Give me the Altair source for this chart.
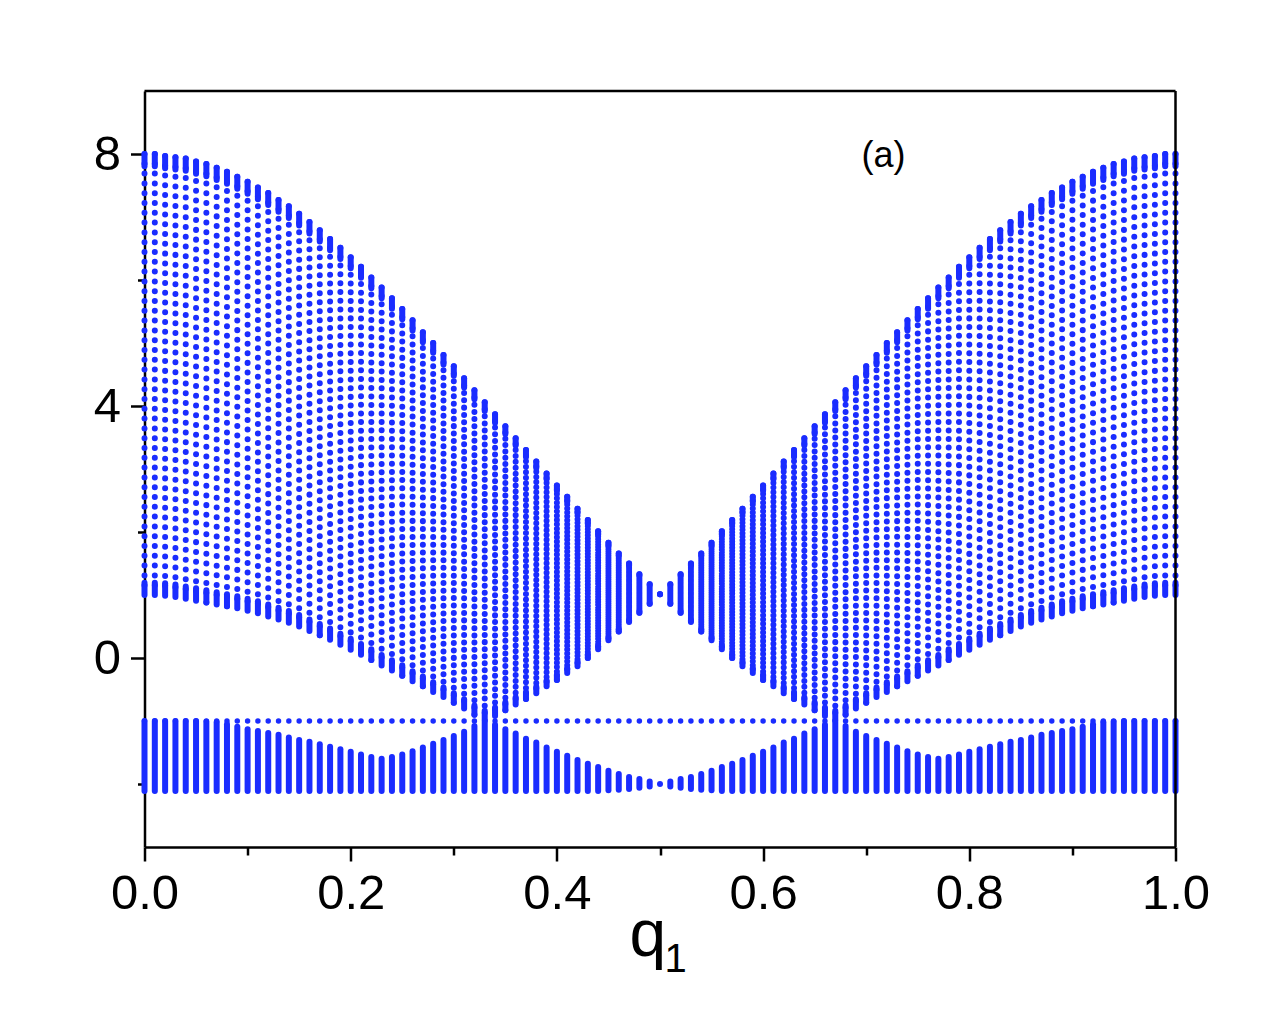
import altair as alt
import pandas as pd

# q1 sampling grid (columns of the spectrum)
q1 = [round(i / 100, 2) for i in range(101)]

# upper band: top and bottom edge of each column
upper_top = [8.00, 8.00, 7.97, 7.95, 7.93, 7.88, 7.84, 7.78, 7.72, 7.64, 7.56,
             7.47, 7.38, 7.27, 7.17, 7.05, 6.92, 6.79, 6.65, 6.51, 6.36,
             6.21, 6.04, 5.88, 5.71, 5.54, 5.36, 5.17, 5.00, 4.81, 4.63,
             4.44, 4.25, 4.06, 3.87, 3.68, 3.49, 3.30, 3.12, 2.93, 2.74,
             2.56, 2.37, 2.19, 2.01, 1.83, 1.66, 1.50, 1.33, 1.17, 1.01,
             1.17, 1.33, 1.50, 1.66, 1.83, 2.01, 2.19, 2.37, 2.56, 2.74,
             2.93, 3.12, 3.30, 3.49, 3.68, 3.87, 4.06, 4.25, 4.44, 4.63,
             4.81, 5.00, 5.17, 5.36, 5.54, 5.71, 5.88, 6.04, 6.21, 6.36,
             6.51, 6.65, 6.79, 6.92, 7.05, 7.17, 7.27, 7.38, 7.47, 7.56,
             7.64, 7.72, 7.78, 7.84, 7.88, 7.93, 7.95, 7.97, 8.00, 8.00]
upper_bot = [1.00, 1.00, 0.99, 0.97, 0.94, 0.91, 0.88, 0.85, 0.82, 0.79, 0.75,
             0.71, 0.66, 0.61, 0.56, 0.50, 0.43, 0.36, 0.29, 0.21, 0.13,
             0.05, -0.03, -0.12, -0.20, -0.28, -0.37, -0.45, -0.54, -0.62, -0.71,
             -0.80, -0.90, -0.98, -0.92, -0.83, -0.74, -0.65, -0.56, -0.45, -0.35,
             -0.24, -0.13, 0.00, 0.14, 0.28, 0.42, 0.57, 0.72, 0.86, 1.01,
             0.86, 0.72, 0.57, 0.42, 0.28, 0.14, 0.00, -0.13, -0.24, -0.35,
             -0.45, -0.56, -0.65, -0.74, -0.83, -0.92, -0.98, -0.90, -0.80, -0.71,
             -0.62, -0.54, -0.45, -0.37, -0.28, -0.20, -0.12, -0.03, 0.05, 0.13,
             0.21, 0.29, 0.36, 0.43, 0.50, 0.56, 0.61, 0.66, 0.71, 0.75,
             0.79, 0.82, 0.85, 0.88, 0.91, 0.94, 0.97, 0.99, 1.00, 1.00]
# lower band: top and bottom edge of each column
lower_top = [-1.00, -1.00, -1.00, -1.00, -1.00, -1.00, -1.01, -1.02, -1.05, -1.09, -1.13,
             -1.16, -1.19, -1.22, -1.26, -1.30, -1.33, -1.37, -1.41, -1.45, -1.49,
             -1.53, -1.57, -1.60, -1.57, -1.53, -1.48, -1.42, -1.36, -1.30, -1.24,
             -1.17, -1.08, -1.00, -1.06, -1.13, -1.20, -1.28, -1.34, -1.42, -1.49,
             -1.55, -1.62, -1.68, -1.73, -1.79, -1.84, -1.89, -1.92, -1.96, -2.00,
             -1.96, -1.92, -1.89, -1.84, -1.79, -1.73, -1.68, -1.62, -1.55, -1.49,
             -1.42, -1.34, -1.28, -1.20, -1.13, -1.06, -1.00, -1.08, -1.17, -1.24,
             -1.30, -1.36, -1.42, -1.48, -1.53, -1.57, -1.60, -1.57, -1.53, -1.49,
             -1.45, -1.41, -1.37, -1.33, -1.30, -1.26, -1.22, -1.19, -1.16, -1.13,
             -1.09, -1.05, -1.02, -1.01, -1.00, -1.00, -1.00, -1.00, -1.00, -1.00]
lower_bot = ([-2.11] * 45 + [-2.10, -2.09, -2.08, -2.06, -2.04, -2.00,
                             -2.04, -2.06, -2.08, -2.09, -2.10] + [-2.11] * 45)
# flat level at -1 present in every column
flat_level = [-1.00] * 101

BLUE = "#1a2cff"
FONT = "Liberation Sans"
DOT_W = 6

df = pd.DataFrame({"q": q1, "ut": upper_top, "ub": upper_bot,
                   "lt": lower_top, "lb": lower_bot, "fl": flat_level})

x_axis = alt.Axis(
    values=[round(i / 10, 1) for i in range(11)],
    labelExpr="round(datum.value*10) % 2 === 0 ? format(datum.value, '.1f') : ''",
    labelFont=FONT, labelFontSize=49, labelColor="black", labelPadding=8,
    tickSize={"condition": {"test": "round(datum.value*10) % 2 === 0", "value": 14}, "value": 8},
    tickWidth=2.5, tickColor="black", domainColor="black", domainWidth=2.5,
    grid=False, title=None, labelFlush=False,
)
y_axis = alt.Axis(
    values=[-2, 0, 2, 4, 6, 8],
    labelExpr="datum.value % 4 === 0 ? datum.label : ''",
    labelFont=FONT, labelFontSize=49, labelColor="black", labelPadding=10,
    tickSize={"condition": {"test": "datum.value % 4 === 0", "value": 14}, "value": 7},
    tickWidth=2.5, tickColor="black", domainColor="black", domainWidth=2.5,
    grid=False, title=None, labelFlush=False,
)

X = alt.X("q:Q", scale=alt.Scale(domain=[0, 1], nice=False, zero=False), axis=x_axis)
ysc = alt.Scale(domain=[-3, 9], nice=False, zero=False)

base = alt.Chart(df)

# dotted body of the upper band
upper = base.transform_calculate(
    dash="[0.01, max(0.01, (datum.ut - datum.ub) * 63 / 45 - 0.01)]"
).mark_rule(color=BLUE, strokeWidth=DOT_W, strokeCap="round").encode(
    x=X,
    y=alt.Y("ut:Q", scale=ysc, axis=y_axis),
    y2="ub:Q",
    strokeDash=alt.StrokeDash("dash:N", scale=None, legend=None),
)
# dense (solid-looking) ends of each upper column
upper_caps_top = base.transform_calculate(
    c="datum.ut - 0.028 * (datum.ut - datum.ub)"
).mark_rule(color=BLUE, strokeWidth=DOT_W, strokeCap="round").encode(
    x=X, y=alt.Y("ut:Q", scale=ysc, axis=y_axis), y2="c:Q"
)
upper_caps_bot = base.transform_calculate(
    c="datum.ub + 0.028 * (datum.ut - datum.ub)"
).mark_rule(color=BLUE, strokeWidth=DOT_W, strokeCap="round").encode(
    x=X, y=alt.Y("ub:Q", scale=ysc, axis=y_axis), y2="c:Q"
)

lower = base.mark_rule(color=BLUE, strokeWidth=DOT_W, strokeCap="round").encode(
    x=X, y=alt.Y("lt:Q", scale=ysc, axis=y_axis), y2="lb:Q"
)
flat = base.mark_circle(color=BLUE, size=30, opacity=1).encode(
    x=X, y=alt.Y("fl:Q", scale=ysc, axis=y_axis)
)

# frame: top and right border
frame = alt.Chart(pd.DataFrame({"k": [0]})).mark_rule(color="black", strokeWidth=2.5)
frame_top = frame.encode(x=alt.value(0), x2=alt.value(1031), y=alt.value(0))
frame_right = frame.encode(x=alt.value(1031), y=alt.value(0), y2=alt.value(756))

label_df = pd.DataFrame({"t": ["(a)"]})
panel = alt.Chart(label_df).mark_text(
    font=FONT, fontSize=36, color="black", align="center", baseline="middle"
).encode(text="t:N", x=alt.value(739), y=alt.value(65))

title_df = pd.DataFrame({"t": ["q"]})
xt_q = alt.Chart(title_df).mark_text(
    font=FONT, fontSize=66, color="black", align="left", baseline="alphabetic"
).encode(text="t:N", x=alt.value(485), y=alt.value(865))
sub_df = pd.DataFrame({"t": ["1"]})
xt_1 = alt.Chart(sub_df).mark_text(
    font=FONT, fontSize=40, color="black", align="left", baseline="alphabetic"
).encode(text="t:N", x=alt.value(520), y=alt.value(881))

chart = alt.layer(
    upper, upper_caps_top, upper_caps_bot, lower, flat,
    frame_top, frame_right, panel, xt_q, xt_1
).properties(
    width=1031, height=756,
    autosize=alt.AutoSizeParams(type="none"),
    padding={"left": 136.5, "top": 83, "right": 80, "bottom": 150},
).configure_view(stroke=None)

chart.save("out.html", embed_options={"renderer": "svg", "actions": False})
